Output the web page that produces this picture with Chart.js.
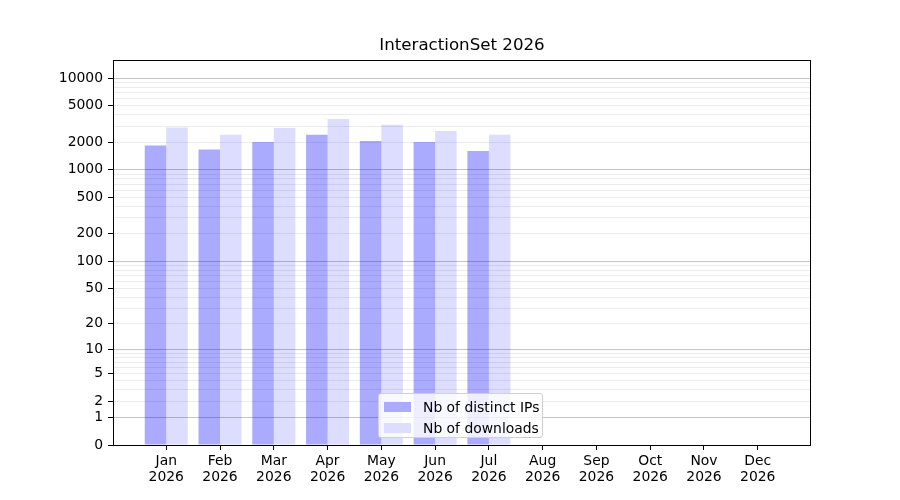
<!DOCTYPE html>
<html>
<head>
<meta charset="utf-8">
<script src="https://cdn.jsdelivr.net/npm/chart.js@4.4.1/dist/chart.umd.min.js"></script>
<style>
  html, body { margin: 0; padding: 0; background: #fff; }
  #wrap { position: relative; width: 900px; height: 500px; font-family: "DejaVu Sans", sans-serif; }
  #title { position: absolute; left: 113px; width: 698px; top: 35px; text-align: center; font-size: 16.67px; line-height: 20px; color: #000; }
  #legend { position: absolute; left: 378px; top: 393px; width: 165px; height: 45px; box-sizing: border-box;
    border: 1px solid #d0d0d0; border-radius: 3px; background: rgba(255,255,255,0.8); }
  .item { position: absolute; left: 5px; height: 16px; font-size: 13.9px; line-height: 16px; color: #000; white-space: nowrap; }
  .sw { position: absolute; left: 0; top: 3px; width: 27px; height: 10px; }
  .lbl { position: absolute; left: 39px; top: 0; }
</style>
</head>
<body>
<div id="wrap">
  <canvas id="c" width="900" height="500"></canvas>
  <div id="title">InteractionSet 2026</div>
  <div id="legend">
    <div class="item" style="top:5px"><div class="sw" style="background:#aaaaff"></div><span class="lbl" id="l0"></span></div>
    <div class="item" style="top:26px"><div class="sw" style="background:#ddddff"></div><span class="lbl" id="l1"></span></div>
  </div>
</div>
<script>
// ---- data ----
const months = ['Jan', 'Feb', 'Mar', 'Apr', 'May', 'Jun', 'Jul', 'Aug', 'Sep', 'Oct', 'Nov', 'Dec'];
const year = '2026';
const seriesNames = ['Nb of distinct IPs', 'Nb of downloads'];
const distinctIPs = [1840, 1670, 2020, 2410, 2070, 2020, 1610];
const downloads = [2900, 2410, 2870, 3600, 3100, 2660, 2410];
const yLabelTicks = [0, 1, 2, 5, 10, 20, 50, 100, 200, 500, 1000, 2000, 5000, 10000];
const yMajorTicks = [1, 10, 100, 1000, 10000];
const yMinorTicks = [3, 4, 6, 7, 8, 9, 30, 40, 60, 70, 80, 90, 300, 400, 600, 700, 800, 900, 3000, 4000, 6000, 7000, 8000, 9000];
const yMax = 15800;

document.getElementById('l0').textContent = seriesNames[0];
document.getElementById('l1').textContent = seriesNames[1];

// ---- log10(1+x) scale ----
const f = v => Math.log10(1 + Math.max(0, v));
class Log1pScale extends Chart.Scale {
  determineDataLimits() {
    const { min, max } = this.getMinMax(true);
    this.min = isFinite(min) ? Math.max(0, min) : 0;
    this.max = isFinite(max) ? max : 1;
  }
  buildTicks() {
    const all = yLabelTicks.concat(yMinorTicks).filter(v => v >= this.min && v <= this.max);
    all.sort((a, b) => a - b);
    return all.map(v => ({ value: v }));
  }
  configure() {
    super.configure();
    this._s = f(this.min);
    this._r = f(this.max) - this._s;
  }
  getLabelForValue(v) { return String(v); }
  getPixelForTick(i) { return this.getPixelForValue(this.ticks[i].value); }
  getPixelForValue(v) {
    if (v === null || v === undefined || isNaN(v)) return NaN;
    return this.getPixelForDecimal((f(v) - this._s) / this._r);
  }
  getValueForPixel(p) {
    const d = this.getDecimalForPixel(p);
    return Math.pow(10, this._s + d * this._r) - 1;
  }
}
Log1pScale.id = 'log1p';
Log1pScale.defaults = {};
Chart.register(Log1pScale);

const frame = {
  id: 'frame',
  afterDatasetsDraw(chart) {
    const a = chart.chartArea, ctx = chart.ctx;
    ctx.save();
    ctx.strokeStyle = '#000';
    ctx.lineWidth = 1;
    ctx.strokeRect(Math.round(a.left) + 0.5, Math.round(a.top) + 0.5, Math.round(a.right - a.left) - 1, Math.round(a.bottom - a.top));
    ctx.restore();
  }
};

const font = { family: 'DejaVu Sans', size: 13.9 };
new Chart(document.getElementById('c'), {
  type: 'bar',
  data: {
    datasets: [
      { label: seriesNames[0], data: distinctIPs.map((v, i) => ({ x: i, y: v })), backgroundColor: 'rgba(0,0,255,0.333)', borderWidth: 0 },
      { label: seriesNames[1], data: downloads.map((v, i) => ({ x: i, y: v })), backgroundColor: 'rgba(0,0,255,0.133)', borderWidth: 0 }
    ]
  },
  options: {
    responsive: false,
    animation: false,
    devicePixelRatio: 1,
    categoryPercentage: 0.8,
    barPercentage: 1.0,
    layout: { padding: { left: 0, top: 60, right: 89, bottom: 0 } },
    plugins: { legend: { display: false }, title: { display: false }, tooltip: { enabled: false } },
    scales: {
      x: {
        type: 'linear',
        min: -0.99, max: 11.99,
        offset: false,
        afterBuildTicks: s => { s.ticks = months.map((m, i) => ({ value: i })); },
        afterFit: s => { s.height = 55; },
        border: { display: false },
        grid: { display: true, offset: false, drawOnChartArea: false, drawTicks: true, tickLength: 5, tickColor: '#000', color: '#000' },
        ticks: {
          autoSkip: false, maxRotation: 0, padding: 3, color: '#000', font: { ...font, lineHeight: 1.15 },
          callback: v => Number.isInteger(v) && months[v] ? [months[v], year] : ''
        }
      },
      y: {
        type: 'log1p',
        min: 0, max: yMax,
        afterFit: s => { s.width = 113; },
        border: { display: false },
        grid: {
          drawOnChartArea: true, drawTicks: true, tickLength: 5,
          color: c => c.tick && yMajorTicks.includes(c.tick.value) ? '#c4c4c4' : (c.tick && c.tick.value === 0 ? 'rgba(0,0,0,0)' : '#ececec'),
          tickColor: c => c.tick && yLabelTicks.includes(c.tick.value) ? '#000' : 'rgba(0,0,0,0)'
        },
        ticks: {
          autoSkip: false, padding: 5, color: '#000', font,
          callback: v => yLabelTicks.includes(v) ? String(v) : ''
        }
      }
    }
  },
  plugins: [frame]
});
</script>
</body>
</html>
